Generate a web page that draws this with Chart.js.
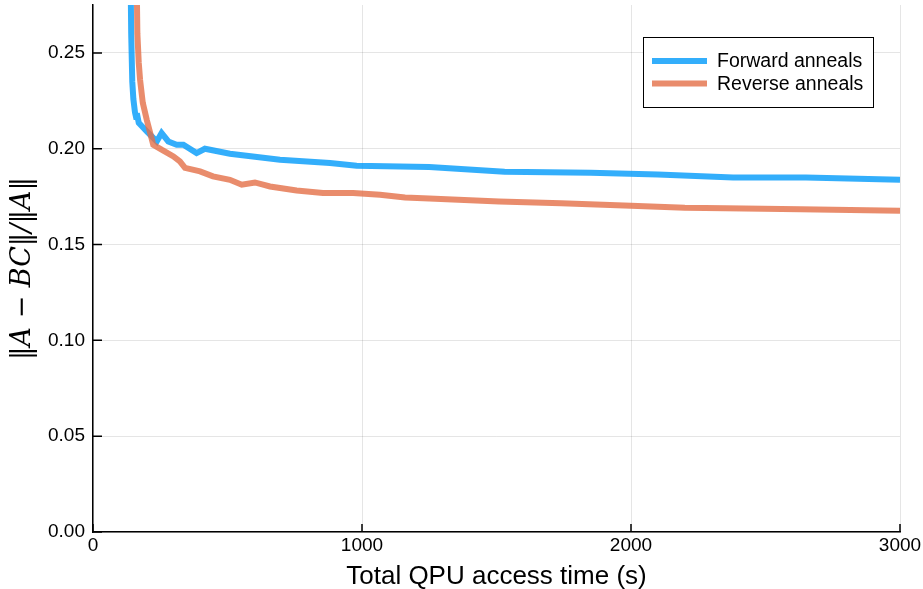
<!DOCTYPE html>
<html>
<head>
<meta charset="utf-8">
<script src="https://cdn.jsdelivr.net/npm/chart.js@4.4.1/dist/chart.umd.min.js"></script>
<style>
  html, body { margin: 0; padding: 0; background: #fff; }
</style>
</head>
<body>
<canvas id="chart" width="923" height="589"></canvas>
<script>
// data
const seriesNames = ['Forward anneals', 'Reverse anneals'];

const forwardTime = [136, 139, 142, 146, 150, 156, 160, 163, 170, 200, 237, 255, 280, 311, 336, 385, 416,
    509, 695, 881, 980, 1250, 1530, 1850, 2100, 2380, 2650, 3000];
const forwardError = [0.40, 0.30, 0.26, 0.235, 0.226, 0.219, 0.2165, 0.2185, 0.2135, 0.209, 0.2038, 0.2082,
    0.2038, 0.2021, 0.2021, 0.1977, 0.2, 0.1974, 0.1943, 0.1925, 0.1911, 0.1905, 0.188, 0.1875, 0.1865,
    0.185, 0.185, 0.1838];

const reverseTime = [158, 161, 165, 170, 175, 185, 200, 224, 255, 299, 323, 342, 398, 446, 509, 553, 602,
    658, 757, 855, 967, 1067, 1160, 1250, 1510, 1740, 2000, 2200, 2350, 2630, 3000];
const reverseError = [0.40, 0.30, 0.26, 0.245, 0.236, 0.224, 0.215, 0.2021, 0.1995, 0.196, 0.1934, 0.190,
    0.1882, 0.1856, 0.1838, 0.1812, 0.1824, 0.1803, 0.1782, 0.1769, 0.1769, 0.176, 0.1745, 0.174, 0.1725,
    0.1715, 0.1703, 0.1692, 0.169, 0.1684, 0.1676];

const xTicks = [0, 1000, 2000, 3000];
const yTicks = [0, 0.05, 0.10, 0.15, 0.20, 0.25];

const blue = 'rgba(0, 154, 250, 0.8)';
const orange = 'rgba(227, 111, 71, 0.8)';
const sans = '"Liberation Sans", Arial, sans-serif';

function toPoints(xs, ys) {
    return xs.map((x, i) => ({ x: x, y: ys[i] }));
}

function noPadding(scale) {
    scale.paddingTop = 0;
    scale.paddingBottom = 0;
    scale.paddingLeft = 0;
    scale.paddingRight = 0;
}

// short inward tick marks, like the original plot
const innerTicks = {
    id: 'innerTicks',
    afterDraw(chart) {
        const ctx = chart.ctx;
        const area = chart.chartArea;
        const xs = chart.scales.x;
        const ys = chart.scales.y;
        ctx.save();
        ctx.strokeStyle = '#000';
        ctx.lineWidth = 1.5;
        ctx.beginPath();
        xTicks.forEach(v => {
            const px = xs.getPixelForValue(v);
            ctx.moveTo(px, area.bottom);
            ctx.lineTo(px, area.bottom - 8);
        });
        yTicks.forEach(v => {
            const py = ys.getPixelForValue(v);
            ctx.moveTo(area.left, py);
            ctx.lineTo(area.left + 9, py);
        });
        ctx.stroke();
        ctx.restore();
    }
};

// legend box in the upper right corner of the plot
const boxLegend = {
    id: 'boxLegend',
    afterDraw(chart) {
        const ctx = chart.ctx;
        const area = chart.chartArea;
        const right = area.right - 27;
        const top = area.top + 32;
        const w = 230, h = 70;
        const left = right - w;
        ctx.save();
        ctx.fillStyle = '#fff';
        ctx.fillRect(left, top, w, h);
        ctx.strokeStyle = '#000';
        ctx.lineWidth = 1;
        ctx.strokeRect(left + 0.5, top + 0.5, w, h);
        ctx.font = '19.5px ' + sans;
        ctx.textBaseline = 'middle';
        chart.data.datasets.forEach((ds, i) => {
            const y = top + 24 + i * 22.5;
            ctx.strokeStyle = ds.borderColor;
            ctx.lineWidth = 6;
            ctx.beginPath();
            ctx.moveTo(left + 9, y);
            ctx.lineTo(left + 64, y);
            ctx.stroke();
            ctx.fillStyle = '#000';
            ctx.fillText(ds.label, left + 74, y + 1);
        });
        ctx.restore();
    }
};

const ctx = document.getElementById('chart').getContext('2d');
new Chart(ctx, {
    type: 'line',
    data: {
        datasets: [
            {
                label: seriesNames[0],
                data: toPoints(forwardTime, forwardError),
                borderColor: blue,
                borderWidth: 6,
                pointRadius: 0,
                tension: 0,
                fill: false,
                order: 1
            },
            {
                label: seriesNames[1],
                data: toPoints(reverseTime, reverseError),
                borderColor: orange,
                borderWidth: 6,
                pointRadius: 0,
                tension: 0,
                fill: false,
                order: 0
            }
        ]
    },
    options: {
        responsive: false,
        animation: false,
        layout: { padding: { top: 5, right: 23, left: 0, bottom: 0 } },
        plugins: {
            legend: { display: false },
            tooltip: { enabled: false }
        },
        scales: {
            x: {
                type: 'linear',
                min: 0,
                max: 3000,
                afterBuildTicks: scale => { scale.ticks = xTicks.map(v => ({ value: v })); },
                afterFit: scale => { scale.height = 57; noPadding(scale); },
                grid: { color: 'rgba(0,0,0,0.1)', lineWidth: 1, drawTicks: false },
                border: { display: true, color: '#000', width: 1.5 },
                ticks: {
                    padding: 2,
                    maxRotation: 0,
                    color: '#000',
                    font: { family: sans, size: 19 },
                    callback: v => String(v)
                },
                title: {
                    display: true,
                    text: 'Total QPU access time (s)',
                    color: '#000',
                    padding: { top: 0, bottom: -3 },
                    font: { family: sans, size: 26 }
                }
            },
            y: {
                type: 'linear',
                min: 0,
                max: 0.275,
                afterBuildTicks: scale => { scale.ticks = yTicks.map(v => ({ value: v })); },
                afterFit: scale => { scale.width = 93; noPadding(scale); },
                grid: { color: 'rgba(0,0,0,0.1)', lineWidth: 1, drawTicks: false },
                border: { display: true, color: '#000', width: 1.5 },
                ticks: {
                    padding: 8,
                    color: '#000',
                    font: { family: sans, size: 19 },
                    callback: v => v.toFixed(2)
                },
                title: {
                    display: true,
                    text: '\u2016A \u2212 BC\u2016/\u2016A\u2016',
                    color: '#000',
                    padding: { top: 7, bottom: 0 },
                    font: { family: '"DejaVu Serif", serif', size: 27, style: 'italic' }
                }
            }
        }
    },
    plugins: [innerTicks, boxLegend]
});
</script>
</body>
</html>
